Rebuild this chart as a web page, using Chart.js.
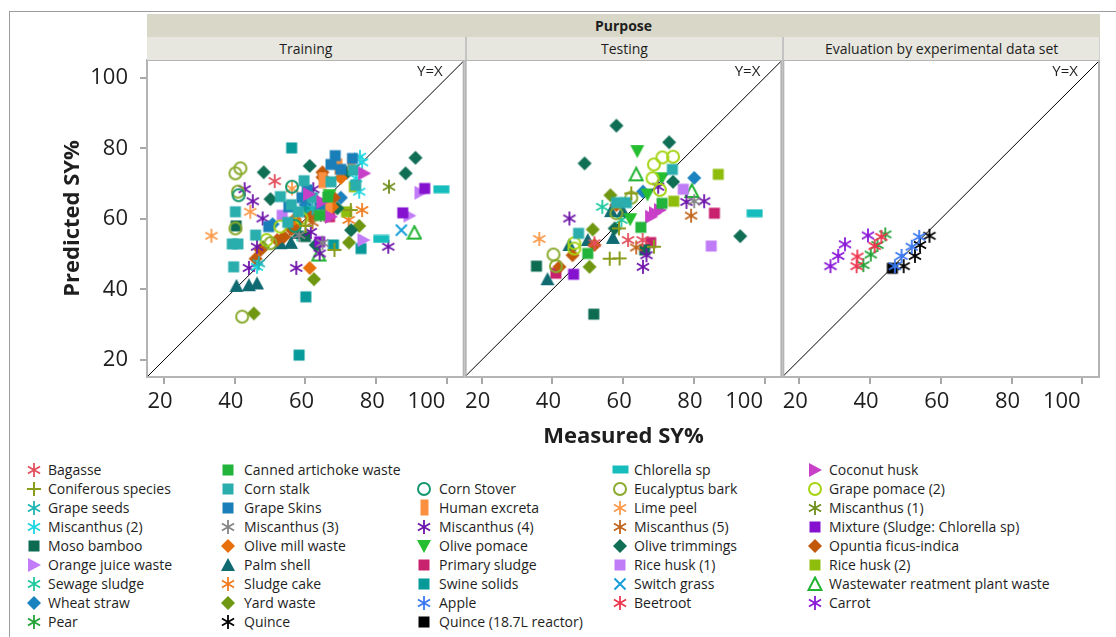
<!DOCTYPE html>
<html>
<head>
<meta charset="utf-8">
<script src="https://cdn.jsdelivr.net/npm/chart.js@4.4.1/dist/chart.umd.min.js"></script>
<style>
  html, body { margin: 0; padding: 0; background: #fff; }
  body { width: 1116px; height: 637px; position: relative; overflow: hidden; font-family: "Open Sans", sans-serif; color: #1e1e1e; }
  #frame { position: absolute; left: 9px; top: 11px; width: 1200px; height: 700px; border-left: 1px solid #9c9c9c; border-top: 1px solid #9c9c9c; }
  #chartBox { position: absolute; left: 0; top: 0; }
  .band { position: absolute; font-size: 14px; text-align: center; line-height: 23px; box-sizing: border-box; }
  .legend-item { position: absolute; height: 19px; line-height: 19px; font-size: 14px; white-space: nowrap; }
  .legend-item canvas { position: absolute; top: 0; }
</style>
</head>
<body>
<div id="frame"></div>
<div id="chartBox"><canvas id="chart" width="1116" height="460"></canvas></div>
<div id="bands"></div>
<div id="legend"></div>
<script>
// axis settings
const axisMin = 15.2;
const axisMax = 105;
const tickValues = [20, 40, 60, 80, 100];
const panelTitles = ["Training", "Testing", "Evaluation by experimental data set"];

// series, in legend order
const seriesNames = [
  "Bagasse", "Canned artichoke waste", "Chlorella sp", "Coconut husk",
  "Coniferous species", "Corn stalk", "Corn Stover", "Eucalyptus bark", "Grape pomace (2)",
  "Grape seeds", "Grape Skins", "Human excreta", "Lime peel", "Miscanthus (1)",
  "Miscanthus (2)", "Miscanthus (3)", "Miscanthus (4)", "Miscanthus (5)", "Mixture (Sludge: Chlorella sp)",
  "Moso bamboo", "Olive mill waste", "Olive pomace", "Olive trimmings", "Opuntia ficus-indica",
  "Orange juice waste", "Palm shell", "Primary sludge", "Rice husk (1)", "Rice husk (2)",
  "Sewage sludge", "Sludge cake", "Swine solids", "Switch grass", "Wastewater reatment plant waste",
  "Wheat straw", "Yard waste", "Apple", "Beetroot", "Carrot",
  "Pear", "Quince", "Quince (18.7L reactor)"
];
const seriesColors = [
  "#e2505e", "#22b33a", "#17bdbd", "#c83fc8",
  "#8a9c1c", "#2aadad", "#16966e", "#8aab2e", "#a6d414",
  "#1fb5b5", "#1a7fb8", "#fb9040", "#fb9a4a", "#6f8f1e",
  "#1ed6e0", "#858585", "#6e14aa", "#c0641a", "#8512cf",
  "#0d6b52", "#e8700c", "#24be30", "#0f6e54", "#c2590a",
  "#c27cf7", "#0f6a72", "#c8216e", "#c07cf7", "#8fbd0c",
  "#20c9a0", "#f07d22", "#089a9a", "#169fd8", "#22b332",
  "#1a82be", "#6f9712", "#3a78f2", "#ef3650", "#8a18d8",
  "#23a236", "#000000", "#000000"
];
const seriesShapes = [
  "asterisk", "square", "rectWide", "triRight",
  "plus", "square", "circle", "circle", "circle",
  "asterisk", "square", "rectTall", "asterisk", "asterisk",
  "asterisk", "asterisk", "asterisk", "asterisk", "square",
  "square", "diamond", "triDown", "diamond", "diamond",
  "triRight", "triUp", "square", "square", "square",
  "asterisk", "asterisk", "square", "cross", "triOpen",
  "diamond", "diamond", "asterisk", "asterisk", "asterisk",
  "asterisk", "asterisk", "square"
];

// [series, measured, predicted]
const trainingPoints = [
  ["Bagasse", 51.3, 70.7],
  ["Canned artichoke waste", 66.3, 66.2], ["Canned artichoke waste", 64.0, 61.0],
  ["Chlorella sp", 98.4, 68.4], ["Chlorella sp", 81.4, 54.3],
  ["Coconut husk", 64.8, 64.8], ["Coconut husk", 76.6, 72.9], ["Coconut husk", 67.2, 60.6], ["Coconut husk", 61.0, 67.0],
  ["Coniferous species", 72.8, 62.5], ["Coniferous species", 68.2, 51.2], ["Coniferous species", 60.0, 58.0],
  ["Corn stalk", 40.2, 62.0], ["Corn stalk", 39.7, 46.4], ["Corn stalk", 39.3, 52.9], ["Corn stalk", 40.9, 52.9],
  ["Corn stalk", 45.9, 55.4], ["Corn stalk", 59.6, 70.8], ["Corn stalk", 67.2, 70.5], ["Corn stalk", 73.5, 73.8],
  ["Corn stalk", 74.2, 69.6], ["Corn stalk", 52.9, 66.3], ["Corn stalk", 56.0, 64.0], ["Corn stalk", 62.0, 66.0],
  ["Corn stalk", 58.0, 62.0], ["Corn stalk", 55.0, 59.0],
  ["Corn Stover", 41.1, 66.7], ["Corn Stover", 56.2, 69.1], ["Corn Stover", 57.0, 58.0],
  ["Eucalyptus bark", 40.2, 72.9], ["Eucalyptus bark", 41.6, 74.3], ["Eucalyptus bark", 40.9, 67.7],
  ["Eucalyptus bark", 40.2, 57.3], ["Eucalyptus bark", 42.1, 32.3], ["Eucalyptus bark", 50.1, 53.1],
  ["Grape pomace (2)", 52.9, 57.8], ["Grape pomace (2)", 58.9, 60.1], ["Grape pomace (2)", 49.0, 54.0],
  ["Grape seeds", 46.8, 47.4], ["Grape seeds", 62.0, 63.0],
  ["Grape Skins", 68.4, 77.9], ["Grape Skins", 67.2, 75.4], ["Grape Skins", 73.3, 77.1], ["Grape Skins", 60.5, 68.2],
  ["Grape Skins", 49.6, 57.8], ["Grape Skins", 55.3, 63.4], ["Grape Skins", 64.0, 64.0], ["Grape Skins", 70.0, 74.0],
  ["Grape Skins", 59.0, 66.0],
  ["Human excreta", 69.3, 74.8], ["Human excreta", 64.8, 71.0], ["Human excreta", 66.5, 63.4], ["Human excreta", 73.0, 76.0],
  ["Lime peel", 33.4, 55.2], ["Lime peel", 44.4, 62.0], ["Lime peel", 56.2, 68.6],
  ["Miscanthus (1)", 83.6, 69.1],
  ["Miscanthus (2)", 75.4, 77.6], ["Miscanthus (2)", 75.2, 67.7], ["Miscanthus (2)", 74.3, 71.5],
  ["Miscanthus (2)", 46.3, 46.4], ["Miscanthus (2)", 76.0, 76.0],
  ["Miscanthus (3)", 58.2, 55.4], ["Miscanthus (3)", 64.8, 53.2], ["Miscanthus (3)", 64.3, 61.1],
  ["Miscanthus (4)", 42.8, 68.4], ["Miscanthus (4)", 45.1, 65.0], ["Miscanthus (4)", 47.9, 60.1], ["Miscanthus (4)", 44.0, 46.1],
  ["Miscanthus (4)", 57.4, 46.1], ["Miscanthus (4)", 61.5, 56.3], ["Miscanthus (4)", 62.2, 68.4], ["Miscanthus (4)", 83.4, 52.1],
  ["Miscanthus (4)", 64.0, 50.2], ["Miscanthus (4)", 46.3, 52.1],
  ["Miscanthus (5)", 66.0, 61.0], ["Miscanthus (5)", 62.0, 59.0],
  ["Mixture (Sludge: Chlorella sp)", 93.7, 68.6], ["Mixture (Sludge: Chlorella sp)", 87.5, 61.7], ["Mixture (Sludge: Chlorella sp)", 64.0, 53.5],
  ["Moso bamboo", 40.4, 58.0], ["Moso bamboo", 60.0, 55.0],
  ["Olive mill waste", 61.2, 46.1], ["Olive mill waste", 70.0, 71.6], ["Olive mill waste", 67.5, 63.4], ["Olive mill waste", 57.0, 60.0],
  ["Olive pomace", 66.8, 66.7], ["Olive pomace", 65.3, 64.1],
  ["Olive trimmings", 91.1, 77.3], ["Olive trimmings", 88.3, 72.9], ["Olive trimmings", 71.7, 73.1], ["Olive trimmings", 48.2, 73.2],
  ["Olive trimmings", 61.2, 75.0], ["Olive trimmings", 50.1, 65.6], ["Olive trimmings", 72.9, 56.8], ["Olive trimmings", 62.9, 52.6],
  ["Olive trimmings", 69.0, 63.0],
  ["Opuntia ficus-indica", 45.9, 48.7], ["Opuntia ficus-indica", 47.3, 51.2], ["Opuntia ficus-indica", 52.0, 54.0],
  ["Opuntia ficus-indica", 53.9, 54.9], ["Opuntia ficus-indica", 57.7, 58.7], ["Opuntia ficus-indica", 61.5, 60.6],
  ["Opuntia ficus-indica", 64.8, 73.2], ["Opuntia ficus-indica", 64.8, 71.8], ["Opuntia ficus-indica", 56.0, 57.0],
  ["Opuntia ficus-indica", 68.0, 66.0],
  ["Orange juice waste", 92.5, 67.4], ["Orange juice waste", 89.4, 60.9], ["Orange juice waste", 76.4, 54.0], ["Orange juice waste", 66.0, 71.0],
  ["Palm shell", 40.5, 41.0], ["Palm shell", 44.0, 41.2], ["Palm shell", 46.3, 41.7], ["Palm shell", 52.9, 53.1],
  ["Palm shell", 55.9, 53.2], ["Palm shell", 58.0, 56.0],
  ["Primary sludge", 66.8, 60.6],
  ["Rice husk (1)", 53.4, 61.0],
  ["Rice husk (2)", 71.6, 62.0], ["Rice husk (2)", 73.8, 69.1],
  ["Sewage sludge", 57.7, 55.6],
  ["Sludge cake", 76.0, 62.5], ["Sludge cake", 72.2, 59.7],
  ["Swine solids", 56.1, 80.1], ["Swine solids", 58.2, 21.4], ["Swine solids", 60.1, 37.9], ["Swine solids", 75.7, 51.6],
  ["Swine solids", 67.9, 52.6], ["Swine solids", 61.0, 62.0],
  ["Switch grass", 87.1, 56.8],
  ["Wastewater reatment plant waste", 90.8, 56.1], ["Wastewater reatment plant waste", 63.7, 49.9],
  ["Wheat straw", 50.7, 58.5], ["Wheat straw", 70.0, 66.0], ["Wheat straw", 60.0, 64.0],
  ["Yard waste", 45.4, 33.2], ["Yard waste", 62.4, 42.9], ["Yard waste", 72.3, 53.3], ["Yard waste", 75.2, 58.0], ["Yard waste", 48.0, 52.0]
];

const testingPoints = [
  ["Bagasse", 51.9, 53.1], ["Bagasse", 61.4, 54.0], ["Bagasse", 65.5, 54.0],
  ["Canned artichoke waste", 71.0, 64.4], ["Canned artichoke waste", 65.0, 57.6], ["Canned artichoke waste", 50.0, 50.2],
  ["Chlorella sp", 97.2, 61.6],
  ["Coconut husk", 67.9, 60.6], ["Coconut husk", 70.4, 62.5], ["Coconut husk", 69.0, 61.6],
  ["Coniferous species", 56.2, 48.7], ["Coniferous species", 59.0, 48.8], ["Coniferous species", 62.3, 67.2],
  ["Coniferous species", 58.8, 57.3], ["Coniferous species", 68.7, 52.1],
  ["Corn stalk", 73.9, 74.0], ["Corn stalk", 47.4, 55.9], ["Corn stalk", 58.1, 64.6], ["Corn stalk", 60.9, 64.6],
  ["Eucalyptus bark", 62.3, 66.0], ["Eucalyptus bark", 40.3, 49.9], ["Eucalyptus bark", 41.0, 46.6], ["Eucalyptus bark", 58.1, 61.6],
  ["Grape pomace (2)", 74.1, 77.6], ["Grape pomace (2)", 71.1, 77.4], ["Grape pomace (2)", 68.7, 75.4],
  ["Grape pomace (2)", 68.3, 71.5], ["Grape pomace (2)", 70.4, 68.2], ["Grape pomace (2)", 46.2, 53.1], ["Grape pomace (2)", 46.2, 51.6],
  ["Lime peel", 36.3, 54.3],
  ["Miscanthus (3)", 80.1, 65.0],
  ["Miscanthus (4)", 44.8, 60.1], ["Miscanthus (4)", 69.9, 69.1], ["Miscanthus (4)", 77.9, 64.8], ["Miscanthus (4)", 82.9, 65.0],
  ["Miscanthus (4)", 66.6, 49.7], ["Miscanthus (4)", 65.6, 46.4],
  ["Miscanthus (5)", 79.2, 60.9], ["Miscanthus (5)", 63.7, 51.9],
  ["Mixture (Sludge: Chlorella sp)", 46.0, 44.3],
  ["Moso bamboo", 35.5, 46.6], ["Moso bamboo", 51.7, 33.0], ["Moso bamboo", 66.1, 51.2],
  ["Olive pomace", 64.0, 79.2], ["Olive pomace", 70.9, 71.5], ["Olive pomace", 66.9, 66.9], ["Olive pomace", 62.0, 59.9],
  ["Olive trimmings", 58.1, 86.4], ["Olive trimmings", 49.1, 75.7], ["Olive trimmings", 73.0, 81.7],
  ["Olive trimmings", 74.1, 70.5], ["Olive trimmings", 93.1, 55.1], ["Olive trimmings", 57.6, 57.3],
  ["Opuntia ficus-indica", 45.7, 49.7], ["Opuntia ficus-indica", 42.0, 46.4], ["Opuntia ficus-indica", 51.9, 52.6], ["Opuntia ficus-indica", 58.1, 63.9],
  ["Palm shell", 57.1, 54.6], ["Palm shell", 38.6, 42.9], ["Palm shell", 50.0, 54.0], ["Palm shell", 44.8, 52.6],
  ["Palm shell", 56.6, 62.2], ["Palm shell", 59.9, 62.2],
  ["Primary sludge", 41.0, 44.6], ["Primary sludge", 67.8, 53.3], ["Primary sludge", 85.8, 61.6],
  ["Rice husk (1)", 77.0, 68.4], ["Rice husk (1)", 84.9, 52.3],
  ["Rice husk (2)", 86.9, 72.6], ["Rice husk (2)", 74.3, 65.0],
  ["Sewage sludge", 54.1, 63.4], ["Sewage sludge", 59.5, 59.7],
  ["Wastewater reatment plant waste", 63.7, 72.6], ["Wastewater reatment plant waste", 79.4, 67.9],
  ["Wheat straw", 80.1, 71.6], ["Wheat straw", 65.6, 67.7],
  ["Yard waste", 56.4, 66.7], ["Yard waste", 51.4, 57.0], ["Yard waste", 50.5, 46.4]
];

const evaluationPoints = [
  ["Carrot", 28.8, 46.6], ["Carrot", 31.0, 49.5], ["Carrot", 32.9, 52.8], ["Carrot", 39.4, 55.3],
  ["Beetroot", 36.4, 49.3], ["Beetroot", 36.2, 46.6], ["Beetroot", 41.3, 52.3], ["Beetroot", 43.2, 54.9],
  ["Pear", 38.1, 46.9], ["Pear", 40.2, 49.9], ["Pear", 42.1, 52.6], ["Pear", 44.3, 55.6],
  ["Apple", 47.0, 46.6], ["Apple", 48.9, 49.5], ["Apple", 51.8, 52.1], ["Apple", 53.9, 54.9],
  ["Quince", 49.5, 46.6], ["Quince", 52.7, 49.5], ["Quince", 54.1, 52.6], ["Quince", 56.8, 55.2],
  ["Quince (18.7L reactor)", 46.3, 46.0]
];

// marker glyphs drawn once, used as point styles and in the legend
function makeMarker(shape, color) {
  const c = document.createElement("canvas");
  let w = 16, h = 16;
  if (shape === "rectWide") { w = 17; h = 9; }
  if (shape === "rectTall") { w = 9; h = 17; }
  c.width = w; c.height = h;
  const g = c.getContext("2d");
  g.fillStyle = color;
  g.strokeStyle = color;
  g.lineWidth = 2;
  const cx = w / 2, cy = h / 2;
  g.beginPath();
  switch (shape) {
    case "square": g.fillRect(cx - 5.5, cy - 5.5, 11, 11); break;
    case "rectWide": g.fillRect(0.5, cy - 4, 16, 8); break;
    case "rectTall": g.fillRect(cx - 4, 0.5, 8, 16); break;
    case "diamond":
      g.moveTo(cx, cy - 7); g.lineTo(cx + 7, cy); g.lineTo(cx, cy + 7); g.lineTo(cx - 7, cy); g.closePath(); g.fill(); break;
    case "triUp":
      g.moveTo(cx, cy - 7); g.lineTo(cx + 7, cy + 6); g.lineTo(cx - 7, cy + 6); g.closePath(); g.fill(); break;
    case "triDown":
      g.moveTo(cx - 7, cy - 6); g.lineTo(cx + 7, cy - 6); g.lineTo(cx, cy + 7); g.closePath(); g.fill(); break;
    case "triRight":
      g.moveTo(cx - 6, cy - 7); g.lineTo(cx + 7, cy); g.lineTo(cx - 6, cy + 7); g.closePath(); g.fill(); break;
    case "triOpen":
      g.moveTo(cx, cy - 6.5); g.lineTo(cx + 6.5, cy + 6); g.lineTo(cx - 6.5, cy + 6); g.closePath(); g.stroke(); break;
    case "circle":
      g.arc(cx, cy, 6, 0, Math.PI * 2); g.stroke(); break;
    case "plus":
      g.moveTo(cx - 7, cy); g.lineTo(cx + 7, cy); g.moveTo(cx, cy - 7); g.lineTo(cx, cy + 7); g.stroke(); break;
    case "cross":
      g.moveTo(cx - 5.5, cy - 5.5); g.lineTo(cx + 5.5, cy + 5.5); g.moveTo(cx + 5.5, cy - 5.5); g.lineTo(cx - 5.5, cy + 5.5); g.stroke(); break;
    case "asterisk":
      g.lineWidth = 1.8;
      for (const a of [90, 30, 150]) {
        const dx = 7 * Math.cos(a * Math.PI / 180), dy = 7 * Math.sin(a * Math.PI / 180);
        g.moveTo(cx - dx, cy - dy); g.lineTo(cx + dx, cy + dy);
      }
      g.stroke(); break;
  }
  return c;
}

const panelPoints = [trainingPoints, testingPoints, evaluationPoints];
const datasets = [];
panelPoints.forEach((points, p) => {
  seriesNames.forEach((name, i) => {
    const pts = points.filter(r => r[0] === name).map(r => ({ x: r[1], y: r[2] }));
    if (!pts.length) return;
    datasets.push({
      type: "scatter",
      label: name,
      data: pts,
      xAxisID: "x" + p,
      pointStyle: makeMarker(seriesShapes[i], seriesColors[i]),
      pointRadius: 6,
      order: 1
    });
  });
  datasets.push({
    type: "line",
    label: "Y=X",
    data: [{ x: axisMin, y: axisMin }, { x: axisMax, y: axisMax }],
    xAxisID: "x" + p,
    borderColor: "#000",
    borderWidth: 1,
    pointRadius: 0,
    order: 100
  });
});

function setTicks(scale) {
  scale.ticks = tickValues.map(v => ({ value: v }));
}

const tickFont = { family: '"Open Sans", sans-serif', size: 22 };
const titleFont = { family: '"Open Sans", sans-serif', size: 22, weight: "bold" };

function xAxis(i) {
  return {
    type: "linear",
    position: "bottom",
    stack: "purpose",
    stackWeight: 1,
    min: axisMin,
    max: axisMax,
    afterBuildTicks: setTicks,
    afterFit: s => { s.height = 83; s.paddingLeft = 0; s.paddingRight = 0; },
    border: { display: false },
    grid: { drawOnChartArea: false, drawTicks: true, tickLength: 7, color: "#a8a8a8", lineWidth: 2 },
    ticks: {
      color: "#1e1e1e", font: tickFont, padding: 5, maxRotation: 0, autoSkip: false, labelOffset: -4,
      // the three-digit label sits left of its tick, as in the original
      callback: v => v === 100 ? "100\u2002\u2002\u2002" : String(v)
    },
    title: { display: i === 1, text: "Measured SY%", color: "#1e1e1e", font: titleFont, padding: { top: 0, bottom: 10 } }
  };
}

// panel frames and Y=X labels
const framePlugin = {
  id: "frames",
  afterDatasetsDraw(chart) {
    const { ctx, chartArea } = chart;
    ctx.save();
    ctx.strokeStyle = "#b4b4b4";
    ctx.lineWidth = 2;
    ["x0", "x1", "x2"].forEach((id, i) => {
      const s = chart.scales[id];
      ctx.strokeRect(s.left + (i === 0 ? 0 : 1), chartArea.top, s.width - (i === 0 ? 1 : 2), chartArea.height);
      ctx.fillStyle = "#1e1e1e";
      ctx.font = '15px "Open Sans", sans-serif';
      ctx.textAlign = "right";
      ctx.textBaseline = "middle";
      ctx.fillText("Y=X", s.right - 22, chartArea.top + 12);
    });
    ctx.restore();
  }
};

const chart = new Chart(document.getElementById("chart"), {
  data: { datasets },
  options: {
    responsive: false,
    animation: false,
    devicePixelRatio: 1,
    layout: { padding: { left: 10, right: 16, top: 60, bottom: 0 } },
    plugins: { legend: { display: false }, tooltip: { enabled: false } },
    scales: {
      x0: xAxis(0),
      x1: xAxis(1),
      x2: xAxis(2),
      y: {
        type: "linear",
        position: "left",
        min: axisMin,
        max: axisMax,
        afterBuildTicks: setTicks,
        afterFit: s => { s.width = 137; s.paddingTop = 0; s.paddingBottom = 0; },
        border: { display: false },
        grid: { drawOnChartArea: false, drawTicks: true, tickLength: 7, color: "#a8a8a8", lineWidth: 2 },
        ticks: { color: "#1e1e1e", font: tickFont, padding: 12 },
        title: { display: true, text: "Predicted SY%", color: "#1e1e1e", font: titleFont, padding: { top: 50, bottom: 0 } }
      }
    }
  },
  plugins: [framePlugin]
});

// header bands above the panels
const bands = document.getElementById("bands");
const area = chart.chartArea;
const purposeBand = document.createElement("div");
purposeBand.className = "band";
Object.assign(purposeBand.style, { left: area.left + "px", top: "14px", width: (area.right - area.left) + "px", height: "23px", background: "#d9d7c8", fontWeight: "bold" });
purposeBand.textContent = "Purpose";
bands.appendChild(purposeBand);
["x0", "x1", "x2"].forEach((id, i) => {
  const s = chart.scales[id];
  const b = document.createElement("div");
  b.className = "band";
  Object.assign(b.style, {
    left: s.left + "px", top: "37px", width: s.width + "px", height: "23px", background: "#e7e7df",
    borderLeft: i === 0 ? "none" : "2px solid #c4c4c4", borderRight: i === 2 ? "1px solid #d0d0d0" : "none"
  });
  b.textContent = panelTitles[i];
  bands.appendChild(b);
});

// legend grid, 5 columns, one empty slot after the second entry
const legendMarkerX = [34, 228, 424, 620, 815];
const legendTextX = [48, 244, 439, 634, 829];
const legendTop = 470;
const legendRow = 19;
const legend = document.getElementById("legend");
seriesNames.forEach((name, i) => {
  const cell = i >= 2 ? i + 1 : i;
  const row = Math.floor(cell / 5), col = cell % 5;
  const item = document.createElement("div");
  item.className = "legend-item";
  item.style.left = legendMarkerX[col] - 10 + "px";
  item.style.top = legendTop + row * legendRow - 10 + "px";
  const m = makeMarker(seriesShapes[i], seriesColors[i]);
  m.style.left = 10 - m.width / 2 + "px";
  m.style.top = 9.5 - m.height / 2 + "px";
  item.appendChild(m);
  const t = document.createElement("span");
  t.style.marginLeft = (legendTextX[col] - legendMarkerX[col] + 10) + "px";
  t.textContent = name;
  item.appendChild(t);
  legend.appendChild(item);
});
</script>
</body>
</html>
